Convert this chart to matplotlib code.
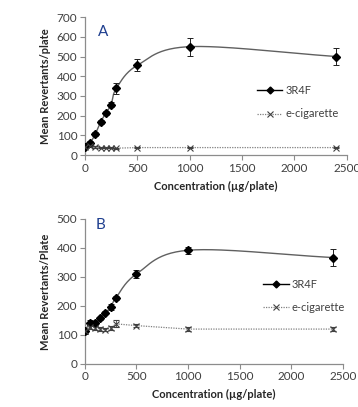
import numpy as np
import matplotlib
matplotlib.use("Agg")
import matplotlib.pyplot as plt
from matplotlib.lines import Line2D

plt.rcParams['font.family'] = ['Lato', 'DejaVu Sans']

conc = [0, 50, 100, 150, 200, 250, 300, 500, 1000, 2400]

a_ref = [42, 62, 107, 167, 213, 255, 338, 455, 550, 500]
a_ref_err = [8, 8, 8, 10, 12, 12, 30, 30, 45, 45]
a_ecig = [40, 45, 42, 38, 37, 37, 35, 38, 38, 38]
a_ecig_err = [4, 4, 4, 3, 3, 3, 3, 4, 4, 4]

b_ref = [112, 142, 140, 157, 177, 195, 227, 310, 392, 367]
b_ref_err = [8, 8, 8, 5, 5, 10, 8, 15, 12, 30]
b_ecig = [112, 128, 125, 120, 118, 123, 138, 132, 120, 120]
b_ecig_err = [6, 8, 8, 6, 6, 6, 12, 6, 6, 6]

xticks = [0, 500, 1000, 1500, 2000, 2500]


def smooth(x, y, xs, ys, n=30):
    # Catmull-Rom through points in normalized space
    px = np.array(x, float) / xs
    py = np.array(y, float) / ys
    P = np.column_stack([px, py])
    P = np.vstack([2 * P[0] - P[1], P, 2 * P[-1] - P[-2]])
    out = []
    for i in range(1, len(P) - 2):
        p0, p1, p2, p3 = P[i - 1], P[i], P[i + 1], P[i + 2]
        t = np.linspace(0, 1, n)[:, None]
        pts = 0.5 * ((2 * p1) + (-p0 + p2) * t + (2 * p0 - 5 * p1 + 4 * p2 - p3) * t ** 2
                     + (-p0 + 3 * p1 - 3 * p2 + p3) * t ** 3)
        out.append(pts)
    out = np.vstack(out)
    return out[:, 0] * xs, out[:, 1] * ys


fig = plt.figure(figsize=(3.58, 4.07), dpi=100)
axA = fig.add_axes([0.237, 0.619, 0.732, 0.339])
axB = fig.add_axes([0.237, 0.106, 0.721, 0.356])

tick_color = '#404040'
spine_color = '#8c8c8c'
dot = (0, (1.0, 1.0))


def panel(ax, ref, ref_err, ecig, ecig_err, ymax, ystep, ylabel, letter, lpos, legxy):
    sx, sy = smooth(conc, ref, 2500, ymax)
    ax.plot(sx, sy, color='#606060', lw=1.0, zorder=2)
    ax.errorbar(conc, ref, yerr=ref_err, fmt='D', color='black', ms=4.5,
                ecolor='#202020', elinewidth=0.7, capsize=2.5, capthick=0.7, zorder=3)
    ax.plot(conc, ecig, color='#808080', lw=0.9, ls=dot, zorder=2)
    ax.errorbar(conc, ecig, yerr=ecig_err, fmt='x', color='#404040', ms=4.5, mew=0.8,
                ecolor='#404040', elinewidth=0.6, capsize=2.5, capthick=0.6, zorder=3)
    ax.set_xlim(0, 2500)
    ax.set_ylim(0, ymax)
    ax.set_xticks(xticks)
    ax.set_yticks(np.arange(0, ymax + 1, ystep))
    for s in ['top', 'right']:
        ax.spines[s].set_visible(False)
    for s in ['left', 'bottom']:
        ax.spines[s].set_color(spine_color)
        ax.spines[s].set_linewidth(0.9)
    ax.tick_params(axis='both', colors=spine_color, labelcolor=tick_color,
                   labelsize=8.5, length=3.5, width=0.8, direction='out', pad=2)
    ax.set_ylabel(ylabel, fontsize=8, fontweight='bold', color='#262626', labelpad=4)
    ax.set_xlabel('Concentration (µg/plate)', fontsize=8, fontweight='bold',
                  color='#262626', labelpad=5)
    ax.text(lpos[0], lpos[1], letter, fontsize=11, color='#1f3f8f',
            ha='center', va='center')
    h1 = Line2D([], [], color='black', lw=1.0, marker='D', ms=3.5)
    h2 = Line2D([], [], color='#808080', lw=0.9, ls=dot, marker='x',
                ms=4.5, mec='#404040', mew=0.8)
    ax.legend([h1, h2], ['3R4F', 'e-cigarette'], loc='center left',
              bbox_to_anchor=legxy, frameon=False, fontsize=8,
              handlelength=2.3, handletextpad=0.25, labelspacing=1.15,
              borderpad=0, borderaxespad=0, labelcolor='#404040')


panel(axA, a_ref, a_ref_err, a_ecig, a_ecig_err, 700, 100,
      'Mean Revertants/plate', 'A', (172, 624), (0.656, 0.384))
panel(axB, b_ref, b_ref_err, b_ecig, b_ecig_err, 500, 100,
      'Mean Revertants/Plate', 'B', (155, 479), (0.69, 0.469))

fig.savefig('out.png', dpi=100)
